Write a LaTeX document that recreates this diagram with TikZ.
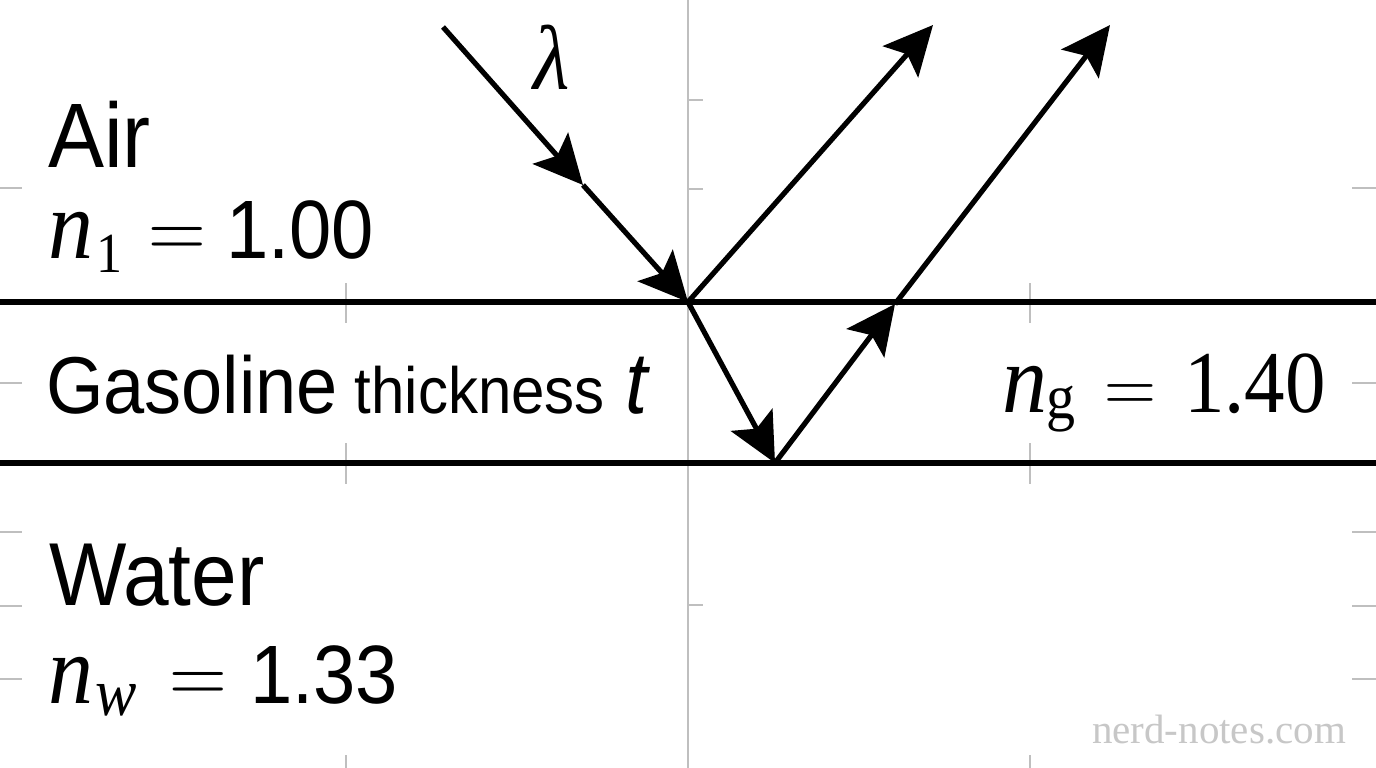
\documentclass[tikz,border=0pt]{standalone}
\usepackage{fix-cm}
\usepackage[no-math]{fontspec}
\setmainfont{Liberation Sans}
\newfontfamily\serifx{Liberation Serif}
\usepackage{graphicx}
\usetikzlibrary{arrows.meta}
\newcommand{\vstr}[1]{\scalebox{1}[1.09]{#1}}
\newcommand{\fsz}[1]{\fontsize{#1}{#1}\selectfont}
\begin{document}
\begin{tikzpicture}[x=1pt,y=-1pt,
  gridln/.style={draw=black!25, line width=1.5pt},
  iface/.style={line width=5.4pt},
  ray/.style={line width=5.2pt},
  tipped/.style={ray, -{Stealth[length=49pt,width=47pt,inset=10pt]}},
  lbl/.style={inner sep=0pt, outer sep=0pt, anchor=base west},
]
\useasboundingbox[fill=white] (0,0) rectangle (1376,768);

% faint grid
\draw[gridln] (688,0) -- (688,768);
\foreach \yy in {188,383,532,606,679} {
  \draw[gridln] (0,\yy) -- (22,\yy);
  \draw[gridln] (1352,\yy) -- (1376,\yy);
}
\foreach \yy in {100,189,605} \draw[gridln] (688,\yy) -- (703,\yy);
\foreach \xx in {346,1030} {
  \draw[gridln] (\xx,283) -- (\xx,323);
  \draw[gridln] (\xx,443) -- (\xx,484);
  \draw[gridln] (\xx,755) -- (\xx,768);
}

% interfaces
\draw[iface] (0,302) -- (1376,302);
\draw[iface] (0,463) -- (1376,463);

% ray points
\coordinate (A) at (443,27);
\coordinate (M1) at (583,185);
\coordinate (O) at (688,302);
\coordinate (R1) at (933,25);
\coordinate (B) at (775,463);
\coordinate (M2) at (895,304);
\coordinate (R2) at (1110,25);

\draw[tipped] (A) -- (M1);
\draw[tipped] (M1) -- (O);
\draw[tipped] (O) -- (R1);
\draw[tipped] (O) -- (B);
\draw[tipped] (B) -- (M2);
\draw[tipped] (M2) -- (R2);

% wavelength
\node[inner sep=0pt] (lam) at (552,57) {\vstr{\serifx\itshape\fsz{84}λ}};

% Air
\node[lbl] (air) at (48,167) {\vstr{\fsz{84}Air}};
\node[lbl] (n1n) at (48,258) {\vstr{\serifx\itshape\fsz{90}n}};
\node[lbl] (n1s) at (96,272) {\vstr{\serifx\fsz{52}1}};
\node[lbl] (n1e) at (148,258) {\vstr{\fsz{80}$=$}};
\node[lbl] (n1v) at (226,258) {\vstr{\fsz{76}1.00}};

% Gasoline
\node[lbl] (gas) at (46,413) {\vstr{\fsz{74}Gasoline{\fsz{60}\ thickness }\hspace{4pt}{\fsz{80}\textit{t}}}};
\node[lbl] (ngn) at (1002,412) {\vstr{\serifx\itshape\fsz{90}n}};
\node[lbl] (ngs) at (1046,418) {\vstr{\serifx\fsz{58}g}};
\node[lbl] (nge) at (1104,412) {\vstr{\fsz{72}$=$}};
\node[lbl] (ngv) at (1184,412) {\vstr{\serifx\fsz{81}1.40}};

% Water
\node[lbl] (water) at (49,605) {\vstr{\fsz{82}Water}};
\node[lbl] (nwn) at (48,703) {\vstr{\serifx\itshape\fsz{90}n}};
\node[lbl] (nws) at (95,715) {\vstr{\serifx\itshape\fsz{62}w}};
\node[lbl] (nwe) at (169,703) {\vstr{\fsz{80}$=$}};
\node[lbl] (nwv) at (250,703) {\vstr{\fsz{76}1.33}};

% watermark
\node[lbl, text=black!22] (wm) at (1092,743) {\serifx\fsz{41}nerd-notes.com};
\end{tikzpicture}
\end{document}
